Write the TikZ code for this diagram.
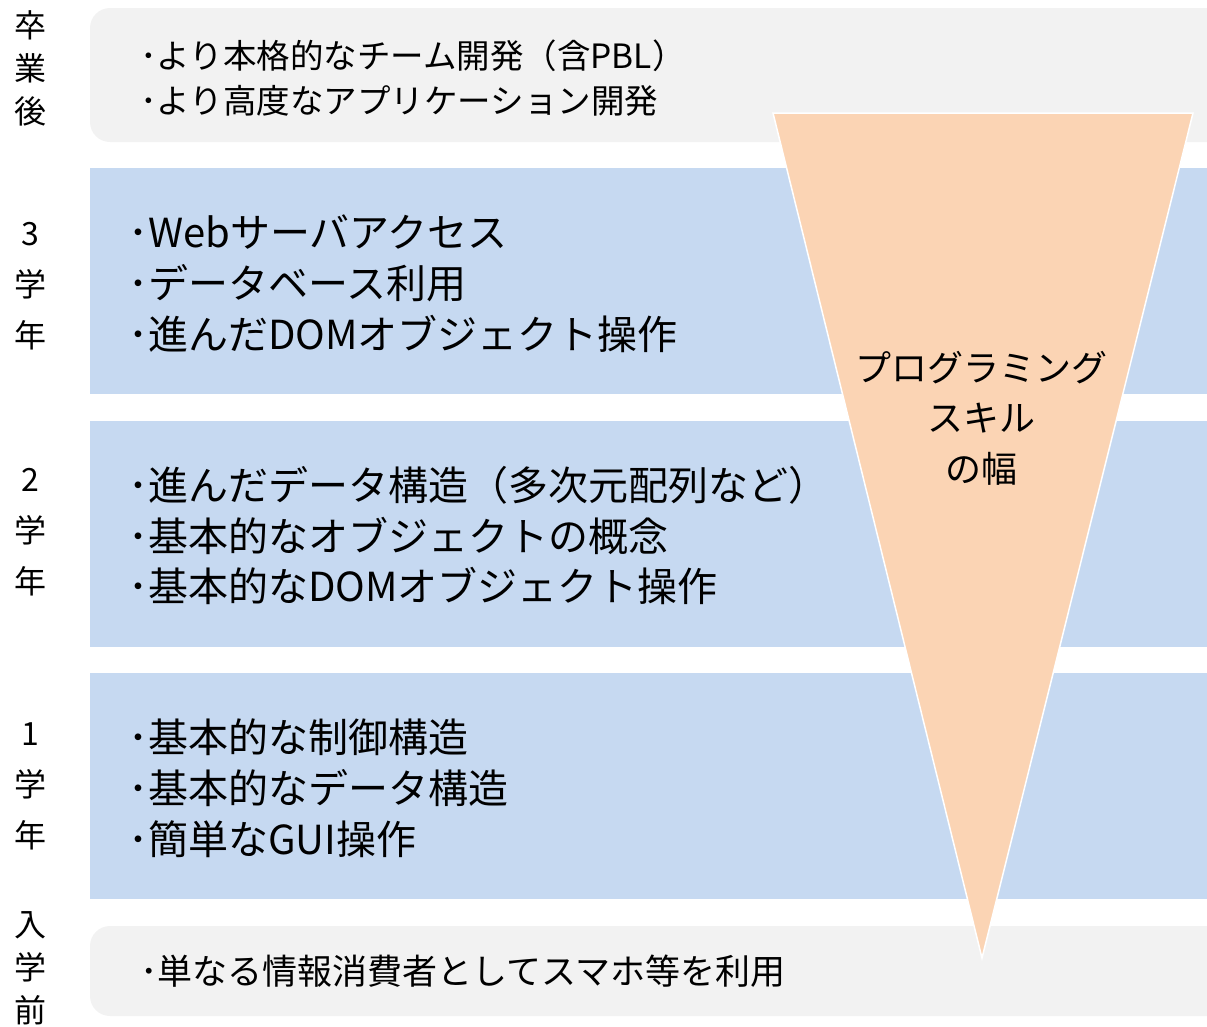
\documentclass[tikz,border=0pt]{standalone}
\usepackage{fontspec}
\setmainfont{Noto Sans CJK JP}
\definecolor{boxgray}{HTML}{F2F2F2}
\definecolor{boxblue}{HTML}{C6D9F1}
\definecolor{funnel}{HTML}{FBD4B4}
\begin{document}
\begin{tikzpicture}[x=1pt,y=-1pt,
  item/.style={anchor=base west, inner sep=0pt, font=\fontsize{40}{40}\selectfont},
  itemsm/.style={anchor=base west, inner sep=0pt, font=\fontsize{33.5}{33.5}\selectfont},
  itembt/.style={anchor=base west, inner sep=0pt, font=\fontsize{35}{35}\selectfont},
  sidesm/.style={anchor=center, inner sep=0pt, align=center, font=\fontsize{32}{43}\selectfont},
  side/.style={anchor=center, inner sep=0pt, align=center, font=\fontsize{32}{51}\selectfont},
  band/.style={fill=boxblue},
  soft/.style={fill=boxgray, rounded corners=20pt},
]
\useasboundingbox (0,0) rectangle (1207,1026);
\clip (0,0) rectangle (1207,1026);
% bands
\fill[soft] (90,8) rectangle (1240,142);
\fill[band] (90,168) rectangle (1207,394);
\fill[band] (90,421) rectangle (1207,647);
\fill[band] (90,673) rectangle (1207,899);
\fill[soft] (90,926) rectangle (1240,1016);
% funnel
\filldraw[fill=funnel, draw=white, line width=1.5pt] (773,113) -- (1193,113) -- (982,958) -- cycle;
\node[anchor=center, inner sep=0pt, align=center, font=\fontsize{36}{50.5}\selectfont] (skill) at (981,418) {プログラミング\\スキル\\の幅};
% side labels
\node[sidesm] (lg) at (30,68) {卒\\業\\後};
\node[side] (l3) at (30,286) {3\\学\\年};
\node[side] (l2) at (30,532) {2\\学\\年};
\node[side] (l1) at (30,786) {1\\学\\年};
\node[sidesm] (l0) at (30,968) {入\\学\\前};
% items
\node[itemsm] (g1) at (140,68) {･より本格的なチーム開発（含PBL）};
\node[itemsm] (g2) at (140,113) {･より高度なアプリケーション開発};
\node[item] (a1) at (128,247) {･Webサーバアクセス};
\node[item] (a2) at (128,298) {･データベース利用};
\node[item] (a3) at (128,349) {･進んだDOMオブジェクト操作};
\node[item] (b1) at (128,500) {･進んだデータ構造（多次元配列など）};
\node[item] (b2) at (128,551) {･基本的なオブジェクトの概念};
\node[item] (b3) at (128,601) {･基本的なDOMオブジェクト操作};
\node[item] (c1) at (128,752) {･基本的な制御構造};
\node[item] (c2) at (128,803) {･基本的なデータ構造};
\node[item] (c3) at (128,854) {･簡単なGUI操作};
\node[itembt] (z1) at (140,984) {･単なる情報消費者としてスマホ等を利用};
\end{tikzpicture}
\end{document}
